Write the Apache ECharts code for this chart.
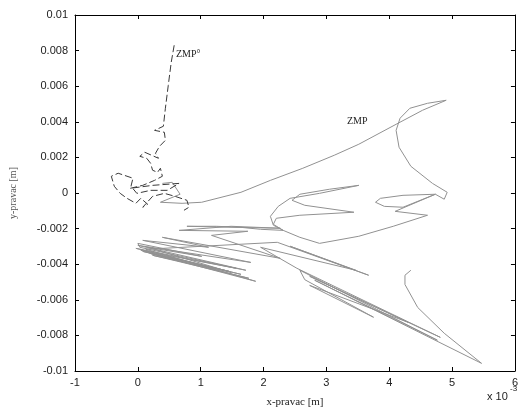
<!DOCTYPE html>
<html>
<head>
<meta charset="utf-8">
<script src="https://cdn.jsdelivr.net/npm/echarts@6/dist/echarts.min.js"></script>
<style>
  html, body { margin: 0; padding: 0; background: #fff; }
  #main { width: 521px; height: 415px; }
</style>
</head>
<body>
<div id="main"></div>
<script>
// x in units of 1e-3 m (axis shows "x 10^-3"), y in m
var zmpX = [0.39, 0.547, 0.672, 0.359, 0.703, 1.016, 1.641, 2.109, 2.625, 3.125, 3.516, 4.109, 4.531, 4.906,
  4.609, 4.328, 4.172, 4.109, 4.156, 4.344, 4.688, 4.922, 4.875, 4.734, 4.219, 3.859, 3.781, 3.922, 4.219,
  4.734, 4.094, 4.609, 4.063, 3.516, 2.891, 2.578, 2.313, 2.156, 2.203, 2.578, 3.438, 2.656, 2.453, 2.578,
  3.047, 3.516, 2.891, 2.422, 2.234, 2.109, 2.156, 2.313, 1.953, 1.641, 1.25, 0.781,
  2.266, 1.484, 0.656, 1.75, 1.172, 2.266, 0.39, 1.125, 0.078, 1.797, 0, 1.719, -0.031, 1.641, 0.078, 1.766,
  0.234, 1.484, 0.156, 1.016, 0,
  0.031, 1.563, 0.047, 1.453, 0.188, 1.875, 0.125,
  2.219, 3.672, 2.422, 3.469, 1.953, 2.531, 4.813, 2.734, 4.297, 2.734, 3.75, 2.656,
  2.578, 4.766, 2.813,
  5.469, 4.875, 4.453, 4.25, 4.25, 4.344];
var zmpY = [0.00054, 0.0006, -0.00007, -0.00052, -0.00058, -0.00052, 0.00004, 0.00071, 0.00139, 0.00212,
  0.00274, 0.00386, 0.00465, 0.00521, 0.00504, 0.00476, 0.0042, 0.00352, 0.00257, 0.0015, 0.00054, 0.00004,
  -0.00035, -0.00007, -0.00013, -0.0003, -0.00052, -0.00075, -0.0008, -0.00007, -0.00103, -0.00125, -0.00187,
  -0.00243, -0.00283, -0.00249, -0.0021, -0.00176, -0.00142, -0.00125, -0.00108, -0.00069, -0.00041, -0.00007,
  0.00021, 0.00043, -0.00002, -0.0003, -0.00075, -0.00131, -0.00181, -0.0021, -0.00204, -0.00193, -0.00187,
  -0.00187,
  -0.00198, -0.00187, -0.0021, -0.00215, -0.00238, -0.00367, -0.00249, -0.00305, -0.00266, -0.0039, -0.00294,
  -0.00434, -0.00311, -0.00457, -0.00328, -0.00479, -0.0035, -0.00446, -0.00305, -0.00356, -0.00283,
  -0.00305, -0.00423, -0.00322, -0.0044, -0.00339, -0.00496, -0.00316,
  -0.00277, -0.00462, -0.00299, -0.00434, -0.00305, -0.00423, -0.00811, -0.00468, -0.00726, -0.00519, -0.00698,
  -0.00487,
  -0.00434, -0.00827, -0.0049,
  -0.00957, -0.00788, -0.00643, -0.00514, -0.00462, -0.00434];

var zmpRefX = [0.578, 0.531, 0.484, 0.438, 0.406, 0.266, 0.422, 0.438, 0.344, 0.281, 0.328, 0.219, 0.109,
  0.031, 0.141, 0.203, 0.234, 0.313, 0.359, 0.39, 0.266, 0.078, -0.125, 0.234, 0.656, 0.469, 0.203, -0.016,
  -0.109, -0.078, -0.313, -0.422, -0.375, -0.281, -0.172, -0.031, 0.047, 0.156, 0.078, 0.234, 0.422, 0.594,
  0.781, 0.813, 0.734];
var zmpRefY = [0.0083, 0.00734, 0.00605, 0.00476, 0.00375, 0.00352, 0.00341, 0.00296, 0.00262, 0.00223,
  0.00195, 0.00212, 0.00229, 0.00206, 0.00195, 0.00167, 0.00128, 0.00116, 0.00139, 0.00094, 0.00071, 0.00043,
  0.00026, 0.00043, 0.00054, 0.00015, 0.00015, -0.00002, 0.00038, 0.00083, 0.00111, 0.00094, 0.00038, -0.00002,
  -0.0003, -0.00058, -0.0003, -0.00063, -0.0008, -0.00019, -0.00002, -0.00019, -0.00041, -0.0008, -0.00097];

var xTicks = [-1, 0, 1, 2, 3, 4, 5, 6];

function pairs(xs, ys) {
  return xs.map(function (x, i) { return [x, ys[i]]; });
}

var myChart = echarts.init(document.getElementById('main'));

var axisCommon = {
  axisLine: { show: true, onZero: false, lineStyle: { color: '#000', width: 1 } },
  axisTick: { show: true, inside: true, length: 4, lineStyle: { color: '#000' } },
  splitLine: { show: false }
};

var option = {
  animation: false,
  grid: { left: 71, right: 1, top: 15, bottom: 44 },
  xAxis: [
    Object.assign({
      type: 'value', min: -1, max: 6, interval: 1, position: 'bottom',
      name: 'x-pravac [m]', nameLocation: 'middle', nameGap: 26,
      nameTextStyle: { fontFamily: 'Liberation Serif', fontSize: 11, color: '#222' },
      axisLabel: { fontFamily: 'Liberation Sans', fontSize: 11, color: '#222', margin: 6,
        formatter: function (v) { return xTicks.indexOf(v) >= 0 ? String(v) : ''; } }
    }, axisCommon),
    Object.assign({
      type: 'value', min: -1, max: 6, interval: 1, position: 'top',
      axisLabel: { show: false }
    }, axisCommon)
  ],
  yAxis: [
    Object.assign({
      type: 'value', min: -0.01, max: 0.01, interval: 0.002, position: 'left',
      name: 'y-pravac [m]', nameLocation: 'middle', nameGap: 57, nameRotate: 90,
      nameTextStyle: { fontFamily: 'Liberation Serif', fontSize: 10, color: '#555' },
      axisLabel: { fontFamily: 'Liberation Sans', fontSize: 11, color: '#222', margin: 7,
        formatter: function (v) { return String(+v.toFixed(3)); } }
    }, axisCommon),
    Object.assign({
      type: 'value', min: -0.01, max: 0.01, interval: 0.002, position: 'right',
      axisLabel: { show: false }
    }, axisCommon)
  ],
  graphic: [
    { type: 'text', left: 176, top: 49,
      style: { text: 'ZMP°', font: '10px "Liberation Serif"', fill: '#222' } },
    { type: 'text', left: 347, top: 116,
      style: { text: 'ZMP', font: '10px "Liberation Serif"', fill: '#222' } },
    { type: 'text', left: 487, top: 391,
      style: { text: 'x 10', font: '11px "Liberation Sans"', fill: '#222' } },
    { type: 'text', left: 510, top: 385,
      style: { text: '-3', font: '8px "Liberation Sans"', fill: '#222' } }
  ],
  series: [
    {
      name: 'ZMP', type: 'line', xAxisIndex: 0, yAxisIndex: 0,
      showSymbol: false, smooth: false,
      lineStyle: { color: '#919191', width: 1 },
      data: pairs(zmpX, zmpY)
    },
    {
      name: 'ZMP°', type: 'line', xAxisIndex: 0, yAxisIndex: 0,
      showSymbol: false, smooth: false,
      lineStyle: { color: '#3a3a3a', width: 1, type: [7, 3] },
      data: pairs(zmpRefX, zmpRefY)
    }
  ]
};

myChart.setOption(option);
</script>
</body>
</html>
